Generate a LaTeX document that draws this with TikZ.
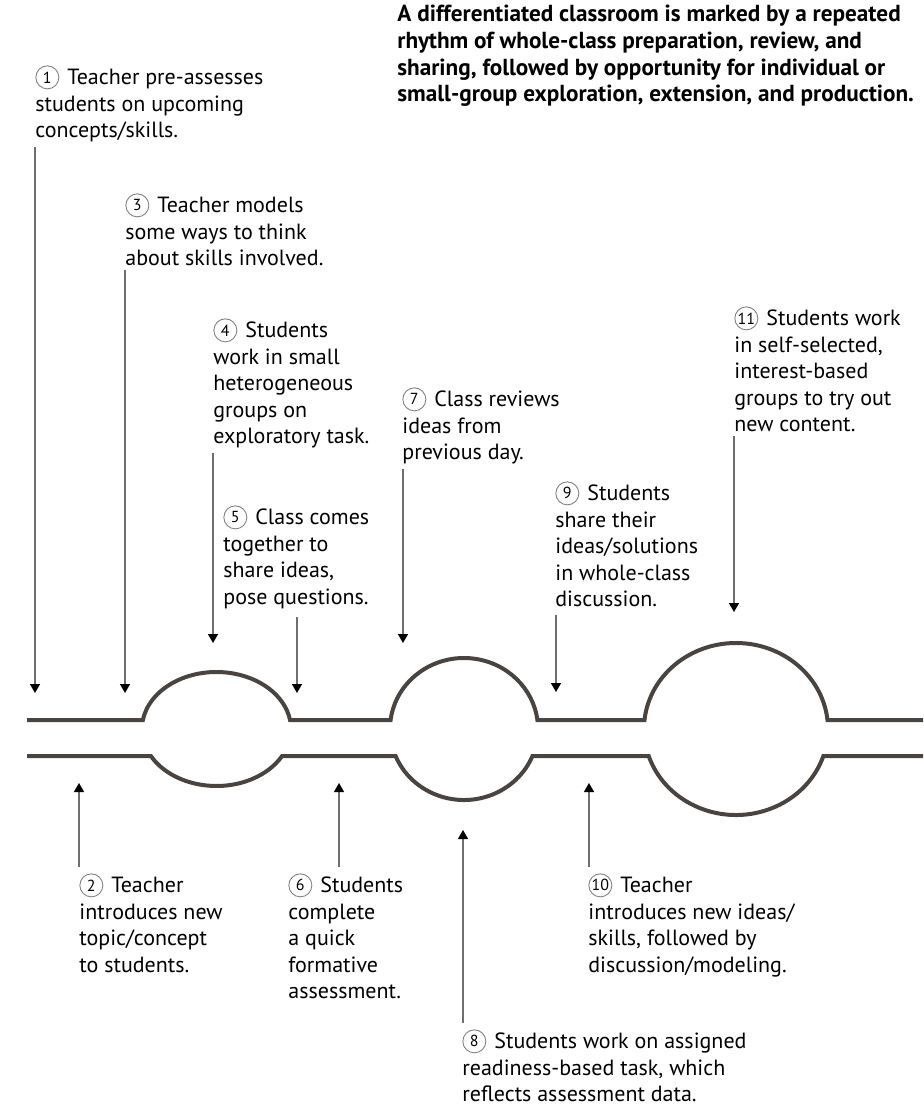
\documentclass[tikz,border=0pt]{standalone}
\usepackage{fontspec}
\setmainfont{PT Sans}
\usetikzlibrary{arrows.meta}

\definecolor{trackgray}{RGB}{74,68,64}
\definecolor{shaftgray}{RGB}{110,110,110}
\newcommand{\cnum}[1]{\tikz[baseline={([yshift=-3.7pt]n.center)}]\node[circle,draw=gray,line width=0.45pt,inner sep=0pt,minimum size=11.5pt,font=\fontsize{8}{8}\selectfont] (n) {#1};\hspace{0.1em}}

\begin{document}
\begin{tikzpicture}[x=0.5pt, y=0.5pt,
    note/.style={anchor=north west, inner sep=0pt, align=left, font=\fontsize{11}{13.25}\selectfont},
    pointer/.style={draw=shaftgray, line width=0.7pt, -{Triangle[width=5pt,length=4.5pt,black]}},
    track/.style={draw=trackgray, line width=2pt}]
  \useasboundingbox (0,0) rectangle (923,-1105);

  % heading
  \node[note, font=\bfseries\fontsize{11.6}{13.3}\selectfont] (title) at (397,-5)
    {A differentiated classroom is marked by a repeated\\
     rhythm of whole-class preparation, review, and\\
     sharing, followed by opportunity for individual or\\
     small-group exploration, extension, and production.};

  % the two lines with their bulges
  \draw[track] (27,-720) -- (142.9,-720)
    arc[start angle=170.92, end angle=9.08, x radius=74.5, y radius=57] -- (390.6,-720)
    arc[start angle=172.72, end angle=7.28, x radius=74, y radius=71] -- (644.5,-720)
    arc[start angle=174, end angle=6, x radius=92, y radius=86] -- (923,-720);
  \draw[track] (27,-756) -- (150.9,-756)
    arc[start angle=208.3, end angle=331.7, x radius=74.5, y radius=57] -- (395.6,-756)
    arc[start angle=202.35, end angle=337.65, x radius=74, y radius=71] -- (648.7,-756)
    arc[start angle=198.3, end angle=341.7, x radius=92, y radius=86] -- (923,-756);

  % steps above the lines
  \node[note] (t1) at (35,-65) {\cnum{1} Teacher pre-assesses\\ students on upcoming\\ concepts/skills.};
  \node[note] (t3) at (125,-193) {\cnum{3} Teacher models\\ some ways to think\\ about skills involved.};
  \node[note] (t4) at (213,-318) {\cnum{4} Students\\ work in small\\ heterogeneous\\ groups on\\ exploratory task.};
  \node[note] (t5) at (223,-505) {\cnum{5} Class comes\\ together to\\ share ideas,\\ pose questions.};
  \node[note] (t7) at (402,-387) {\cnum{7} Class reviews\\ ideas from\\ previous day.};
  \node[note] (t9) at (555,-481) {\cnum{9} Students\\ share their\\ ideas/solutions\\ in whole-class\\ discussion.};
  \node[note] (t11) at (734,-306) {\cnum{11} Students work\\ in self-selected,\\ interest-based\\ groups to try out\\ new content.};

  % steps below the lines
  \node[note] (t2) at (79,-873) {\cnum{2} Teacher\\ introduces new\\ topic/concept\\ to students.};
  \node[note] (t6) at (288,-873) {\cnum{6} Students\\ complete\\ a quick\\ formative\\ assessment.};
  \node[note] (t10) at (588,-873) {\cnum{10} Teacher\\ introduces new ideas/\\ skills, followed by\\ discussion/modeling.};
  \node[note] (t8) at (462,-1029) {\cnum{8} Students work on assigned\\ readiness-based task, which\\ reflects assessment data.};

  % arrow tips
  \coordinate (p1) at (35,-693);
  \coordinate (p3) at (125,-693);
  \coordinate (p4) at (213,-643);
  \coordinate (p5) at (297,-693);
  \coordinate (p7) at (403,-643);
  \coordinate (p9) at (556,-692);
  \coordinate (p11) at (734,-612);
  \coordinate (p2) at (79,-783);
  \coordinate (p6) at (339,-783);
  \coordinate (p8) at (463,-830);
  \coordinate (p10) at (589,-783);

  \draw[pointer] ([yshift=-2pt]p1 |- t1.south) -- (p1);
  \draw[pointer] ([yshift=-2pt]p3 |- t3.south) -- (p3);
  \draw[pointer] ([yshift=-2pt]p4 |- t4.south) -- (p4);
  \draw[pointer] ([yshift=-4pt]p5 |- t5.south) -- (p5);
  \draw[pointer] ([yshift=-2pt]p7 |- t7.south) -- (p7);
  \draw[pointer] ([yshift=-4pt]p9 |- t9.south) -- (p9);
  \draw[pointer] ([yshift=-2pt]p11 |- t11.south) -- (p11);
  \draw[pointer] ([yshift=3pt]p2 |- t2.north) -- (p2);
  \draw[pointer] ([yshift=3pt]p6 |- t6.north) -- (p6);
  \draw[pointer] ([yshift=3pt]p10 |- t10.north) -- (p10);
  \draw[pointer] ([yshift=3pt]p8 |- t8.north) -- (p8);
\end{tikzpicture}
\end{document}
